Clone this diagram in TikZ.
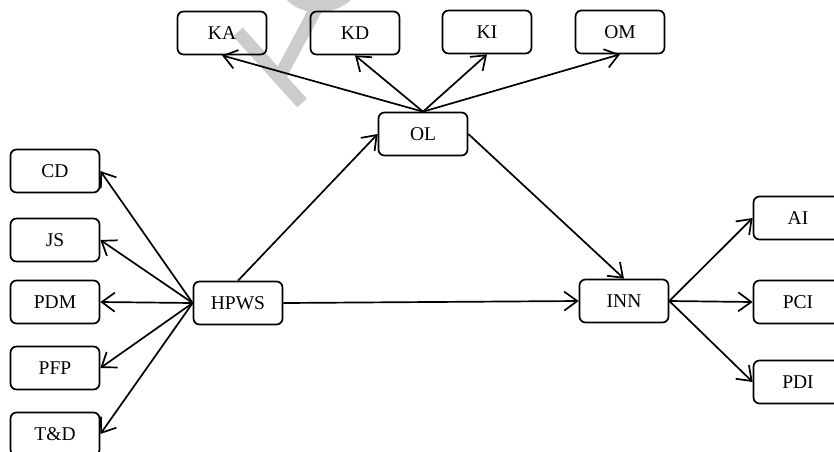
\documentclass[tikz,border=0pt]{standalone}
\usepackage{fontspec}
\setmainfont{Liberation Serif}
\usetikzlibrary{arrows.meta}
\begin{document}
\begin{tikzpicture}[x=1pt,y=-1pt,
  box/.style={draw, rounded corners=6pt, line width=1.7pt, minimum width=89pt, minimum height=43pt, inner sep=0pt, font=\fontsize{19.5}{19.5}\selectfont},
  conn/.style={line width=1.7pt, -{Straight Barb[length=13pt,width=19pt,line width=1.7pt]}},
  wm/.style={line width=13pt, color=black!20}]
\useasboundingbox (0,0) rectangle (834,451);
\clip (0,0) rectangle (834,451);
% watermark fragments
\draw[wm] (238,32) -- (302,103);
\draw[wm] (280,76) -- (325,-8);
\draw[wm] (290,-6) .. controls (305,10) and (330,10) .. (348,-6);
% nodes
\node[box] (ka) at (222,33) {KA};
\node[box] (kd) at (355,33) {KD};
\node[box] (ki) at (487,32) {KI};
\node[box] (om) at (620,32) {OM};
\node[box] (ol) at (423,134) {OL};
\node[box] (cd) at (55,171) {CD};
\node[box] (js) at (55,240) {JS};
\node[box] (pdm) at (55,302) {PDM};
\node[box] (pfp) at (55,368) {PFP};
\node[box] (td) at (55,434) {T\&D};
\node[box] (hpws) at (238,303) {HPWS};
\node[box] (inn) at (624,301) {INN};
\node[box] (ai) at (798,218) {AI};
\node[box] (pci) at (798,302) {PCI};
\node[box] (pdi) at (798,382) {PDI};
% connectors
\foreach \t in {cd,js,pdm,pfp,td} \draw[conn] (hpws.west) -- (\t.east);
\draw[conn] (hpws.north) -- (ol.west);
\draw[conn] (hpws.east) -- (inn.west);
\draw[conn] (ol.east) -- (inn.north);
\foreach \t in {ka,kd,ki,om} \draw[conn] (ol.north) -- (\t.south);
\foreach \t in {ai,pci,pdi} \draw[conn] (inn.east) -- (\t.west);
\end{tikzpicture}
\end{document}
